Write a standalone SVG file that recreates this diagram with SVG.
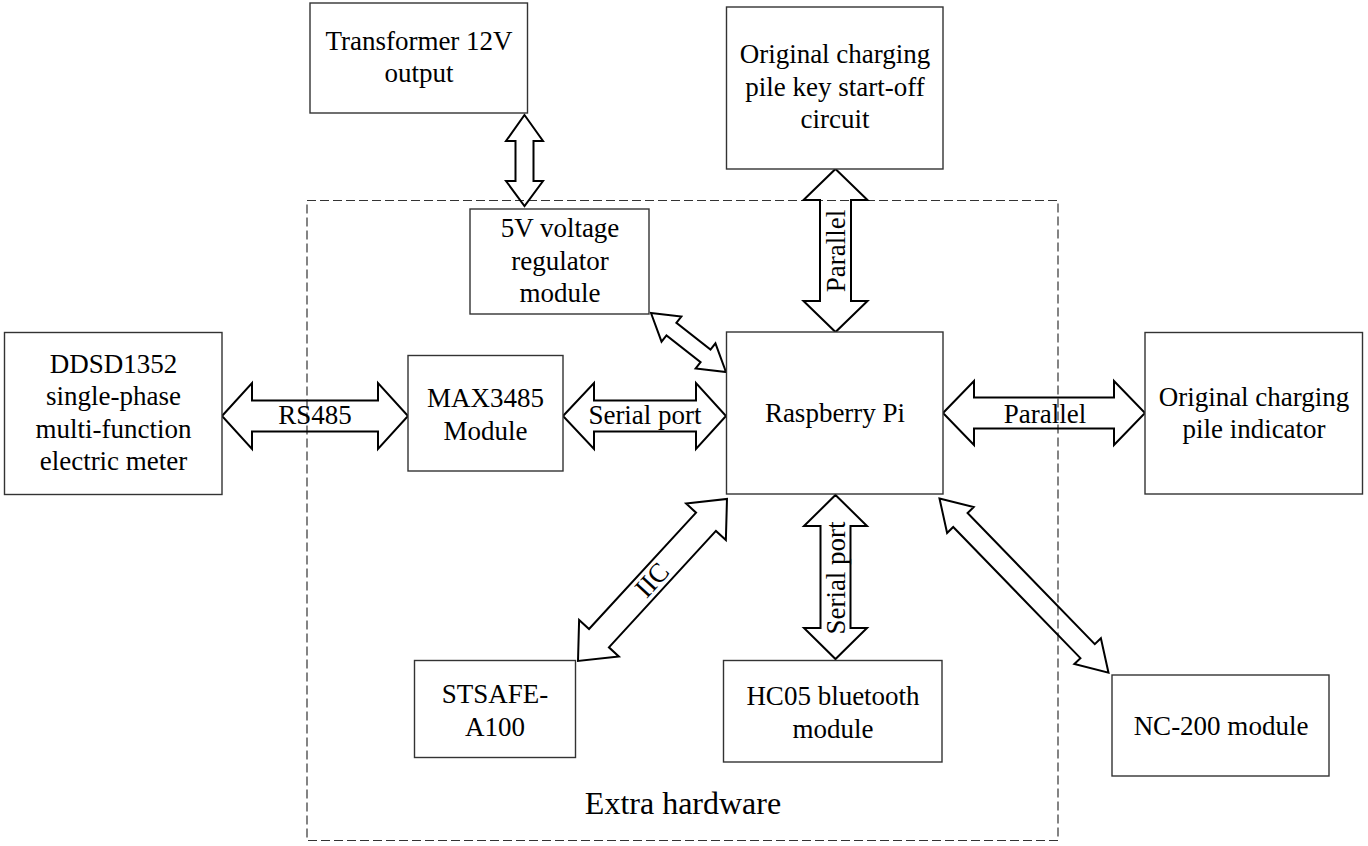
<svg xmlns="http://www.w3.org/2000/svg" width="1368" height="846" viewBox="0 0 1368 846">
<style>
.box{fill:#fff;stroke:#333;stroke-width:1.4}
.arr{fill:none;stroke:#000;stroke-width:2;stroke-linejoin:miter}
.t{font-family:"Liberation Serif","Times New Roman",serif;font-size:27px;fill:#000;text-anchor:middle}
.big{font-size:32px}
.dash{fill:none;stroke:#333;stroke-width:1.2;stroke-dasharray:9,4}
</style>
<rect width="1368" height="846" fill="#fff"/>
<rect class="dash" x="307" y="200.5" width="751" height="640"/>
<text class="t big" x="683" y="814">Extra hardware</text>

<g id="connectors">
<polygon class="arr" points="524.5,115 543,141 533.5,141 533.5,181 543,181 524.5,206 506,181 515.5,181 515.5,141 506,141"/>
<polygon class="arr" points="835.5,169 867.5,200 851,200 851,301 867.5,301 835.5,332 803.5,301 820,301 820,200 803.5,200"/>
<text class="t" transform="translate(836,251) rotate(-90)" x="0" y="9">Parallel</text>
<polygon class="arr" points="222,416 252,383 252,400.5 378,400.5 378,383 408,416 378,449 378,431.5 252,431.5 252,449"/>
<text class="t" x="315" y="424">RS485</text>
<polygon class="arr" points="563,416 594,383 594,400.5 696,400.5 696,383 726,416 696,449 696,431.5 594,431.5 594,449"/>
<text class="t" x="645" y="424">Serial port</text>
<polygon class="arr" points="943,413 974,381 974,397.5 1114,397.5 1114,381 1145,413 1114,445 1114,428.5 974,428.5 974,445"/>
<text class="t" x="1045" y="423">Parallel</text>
<polygon class="arr" points="835.5,495 867,526 850.5,526 850.5,628 867,628 835.5,659 804,628 820.5,628 820.5,526 804,526"/>
<text class="t" transform="translate(836,578) rotate(-90)" x="0" y="9">Serial port</text>
<polygon class="arr" transform="translate(651,313) rotate(38.2)" points="0,0 26,-16 26,-8 69.4,-8 69.4,-16 95.4,0 69.4,16 69.4,8 26,8 26,16"/>
<polygon class="arr" transform="translate(578,661) rotate(-47.4)" points="0,0 31,-27 31,-13.5 189.1,-13.5 189.1,-27 220.1,0 189.1,27 189.1,13.5 31,13.5 31,27"/>
<text class="t" transform="translate(652,580) rotate(-47.4)" x="0" y="9">IIC</text>
<polygon class="arr" transform="translate(939.5,498.5) rotate(45.87)" points="0,0 30,-18.5 30,-10 212.7,-10 212.7,-18.5 242.7,0 212.7,18.5 212.7,10 30,10 30,18.5"/>
</g>

<g id="transformer">
<rect class="box" x="310" y="3" width="217.5" height="110"/>
<text class="t" x="419" y="50">Transformer 12V</text>
<text class="t" x="419" y="82">output</text>
</g>
<g id="key-circuit">
<rect class="box" x="726.5" y="7" width="216.5" height="162"/>
<text class="t" x="835" y="63">Original charging</text>
<text class="t" x="835" y="96">pile key start-off</text>
<text class="t" x="835" y="128">circuit</text>
</g>
<g id="regulator">
<rect class="box" x="470" y="209" width="179" height="105"/>
<text class="t" x="560" y="237">5V voltage</text>
<text class="t" x="560" y="270">regulator</text>
<text class="t" x="560" y="302">module</text>
</g>
<g id="meter">
<rect class="box" x="4.5" y="332.5" width="217.5" height="162"/>
<text class="t" x="113.5" y="373">DDSD1352</text>
<text class="t" x="113.5" y="405">single-phase</text>
<text class="t" x="113.5" y="438">multi-function</text>
<text class="t" x="113.5" y="470">electric meter</text>
</g>
<g id="max3485">
<rect class="box" x="408" y="355.5" width="155" height="115.5"/>
<text class="t" x="485.5" y="407">MAX3485</text>
<text class="t" x="485.5" y="440">Module</text>
</g>
<g id="raspberry">
<rect class="box" x="726.5" y="332" width="216.5" height="162"/>
<text class="t" x="835" y="422">Raspberry Pi</text>
</g>
<g id="indicator">
<rect class="box" x="1145" y="332.5" width="217.5" height="161.5"/>
<text class="t" x="1254" y="406">Original charging</text>
<text class="t" x="1254" y="438">pile indicator</text>
</g>
<g id="stsafe">
<rect class="box" x="414.5" y="660.5" width="161" height="97"/>
<text class="t" x="495" y="703">STSAFE-</text>
<text class="t" x="495" y="736">A100</text>
</g>
<g id="hc05">
<rect class="box" x="723.5" y="660.5" width="218.5" height="101.5"/>
<text class="t" x="833" y="705">HC05 bluetooth</text>
<text class="t" x="833" y="738">module</text>
</g>
<g id="nc200">
<rect class="box" x="1112" y="675" width="217" height="101"/>
<text class="t" x="1221" y="735">NC-200 module</text>
</g>
</svg>
